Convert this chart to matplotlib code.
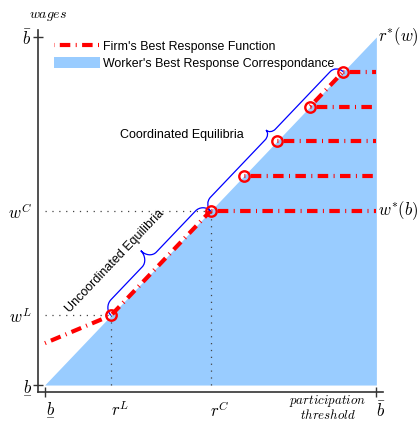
import numpy as np
import matplotlib
matplotlib.use("Agg")
import matplotlib.pyplot as plt
from matplotlib.path import Path
from matplotlib.patches import PathPatch, Patch
from matplotlib.lines import Line2D

plt.rcParams['mathtext.fontset'] = 'cm'
plt.rcParams['font.family'] = ['Liberation Sans', 'DejaVu Sans']

# Model quantities, normalised so that b_low = 0 and b_high = 1
b_low, b_high = 0.0, 1.0
firm_intercept = 0.12            # firm's best-response wage at b_low
r_L, w_L = 0.2, 0.2              # uncoordinated equilibrium
r_C, w_C = 0.5, 0.5              # lowest coordinated equilibrium
coordinated_wages = [0.5, 0.6, 0.7, 0.8, 0.9]

B_LOW = r'$\underset{-}{b}$'
B_HIGH = r'$\bar{b}$'
x_ticks_major = [b_low, b_high]
x_labels_major = [B_LOW, B_HIGH]
x_ticks_minor = [r_L, r_C]
x_labels_minor = [r'$r^L$', r'$r^C$']
y_ticks_major = [b_low, b_high]
y_labels_major = [B_LOW, B_HIGH]
y_ticks_minor = [w_L, w_C]
y_labels_minor = [r'$w^L$', r'$w^C$']

RED = '#ff0000'
FILL = '#99ccff'
BLUE = '#0000ff'
AXIS = '#333333'

# dash-dot pattern (in units of line width): long dash, gap, short tick, gap
LW = 3.0
PX = 0.72 / LW
DASHDOT = (15.5 * PX, (10.5 * PX, 5.4 * PX, 1.0 * PX, 5.4 * PX))

fig = plt.figure(figsize=(4.2, 4.22), dpi=100)
ax = fig.add_axes([38 / 420, 30 / 422, 345 / 420, 362 / 422])
ax.set_xlim(-0.02, 1.02)
ax.set_ylim(-0.02, 1.02)

# worker's best-response correspondence: everything below the 45-degree line
ax.fill_between([b_low, b_high], [b_low, b_low], [b_low, b_high],
                color=FILL, lw=0, zorder=1)

# reference lines to the uncoordinated and coordinated equilibria
dot_style = dict(color='#444444', lw=0.9, ls=(0, (1, 4.5)), zorder=2)
for r, w in [(r_L, w_L), (r_C, w_C)]:
    ax.plot([b_low, r], [w, w], **dot_style)
    ax.plot([r, r], [b_low, w], **dot_style)

# firm's best response functions
red_style = dict(color=RED, lw=LW, ls=DASHDOT, zorder=3)
ax.plot([b_low, r_L, r_C], [firm_intercept, w_L, w_C], **red_style)
ax.plot(coordinated_wages[-2:], coordinated_wages[-2:], **red_style)
for w in coordinated_wages:
    ax.plot([w, b_high], [w, w], **red_style)

# equilibria
eq_x = [r_L] + coordinated_wages
eq_y = [w_L] + coordinated_wages
ax.plot(eq_x, eq_y, ls='none', marker='o', ms=7.5, mfc='none',
        mec=RED, mew=1.7, zorder=4)


def brace(ax, p0, p1, h_arm, h_tip, r_end, r_mid, frac=0.5, **kw):
    """Curly brace from p0 to p1, bulging to the left of the direction p0->p1."""
    p0, p1 = np.asarray(p0, float), np.asarray(p1, float)
    d = p1 - p0
    L = np.hypot(*d)
    u = d / L
    n = np.array([-u[1], u[0]])
    k = 0.5523
    m = frac * L
    st = [(0, 0),
          (0, k * h_arm), (r_end * (1 - k), h_arm), (r_end, h_arm),
          (m - r_mid, h_arm),
          (m - r_mid * (1 - k), h_arm), (m, h_tip - k * (h_tip - h_arm)), (m, h_tip),
          (m, h_tip - k * (h_tip - h_arm)), (m + r_mid * (1 - k), h_arm), (m + r_mid, h_arm),
          (L - r_end, h_arm),
          (L - r_end * (1 - k), h_arm), (L, k * h_arm), (L, 0)]
    codes = ([Path.MOVETO] + [Path.CURVE4] * 3 + [Path.LINETO] + [Path.CURVE4] * 6
             + [Path.LINETO] + [Path.CURVE4] * 3)
    verts = [p0 + s * u + t * n for s, t in st]
    ax.add_patch(PathPatch(Path(verts, codes), fill=False, **kw))


brace(ax, (r_L, w_L), (r_C, w_C), 0.032, 0.068, 0.032, 0.03, frac=0.46,
      ec=BLUE, lw=0.9, zorder=3)
brace(ax, (coordinated_wages[0], coordinated_wages[0]),
      (coordinated_wages[-1], coordinated_wages[-1]), 0.028, 0.046, 0.028, 0.022,
      ec=BLUE, lw=0.9, zorder=3)

ax.text(0.213, 0.355, 'Uncoordinated Equilibria', rotation=45,
        transform_rotates_text=True, rotation_mode='anchor',
        ha='center', va='center', fontsize=9)
ax.text(0.414, 0.719, 'Coordinated Equilibria', ha='center', va='center',
        fontsize=9)

ax.text(1.005, b_high, r'$r^{*}(w)$', ha='left', va='center', fontsize=12)
ax.text(1.005, w_C, r'$w^{*}(b)$', ha='left', va='center', fontsize=12)

# axes
for side in ['top', 'right']:
    ax.spines[side].set_visible(False)
for side in ['left', 'bottom']:
    ax.spines[side].set_color(AXIS)
    ax.spines[side].set_linewidth(1.2)

ax.set_xticks(x_ticks_major, x_labels_major)
ax.set_xticks(x_ticks_minor, x_labels_minor, minor=True)
ax.set_yticks(y_ticks_major, y_labels_major)
ax.set_yticks(y_ticks_minor, y_labels_minor, minor=True)
ax.tick_params(which='major', direction='inout', length=6.5, width=1.0,
               color=AXIS, labelsize=12)
ax.tick_params(which='minor', length=0, labelsize=12)
ax.tick_params(axis='x', which='major', pad=3.0)
ax.tick_params(axis='x', which='minor', pad=6.2)
ax.tick_params(axis='y', which='major', pad=1.2)
ax.tick_params(axis='y', which='minor', pad=4.4)
for lab in ax.get_xticklabels(which='both'):
    lab.set_horizontalalignment('left')

ax.set_xlabel('$participation$\n$threshold$', fontsize=9.3, linespacing=0.85)
ax.xaxis.set_label_coords(0.84, -0.004)
ax.set_ylabel('$wages$', fontsize=10, rotation=0, ha='center', va='center')
ax.yaxis.set_label_coords(0.030, 1.04)

handles = [Line2D([], [], color=RED, lw=LW, ls=(16.5 * PX, DASHDOT[1])),
           Patch(facecolor=FILL, edgecolor='none')]
ax.legend(handles, ["Firm's Best Response Function",
                    "Worker's Best Response Correspondance"],
          loc='upper left', bbox_to_anchor=(54 / 420, 1 - 40 / 422),
          bbox_transform=fig.transFigure, frameon=False, fontsize=8.9,
          handlelength=3.7, handletextpad=0.3, handleheight=1.0,
          labelspacing=0.35, borderpad=0, borderaxespad=0)

fig.savefig('out.png', dpi=100)
